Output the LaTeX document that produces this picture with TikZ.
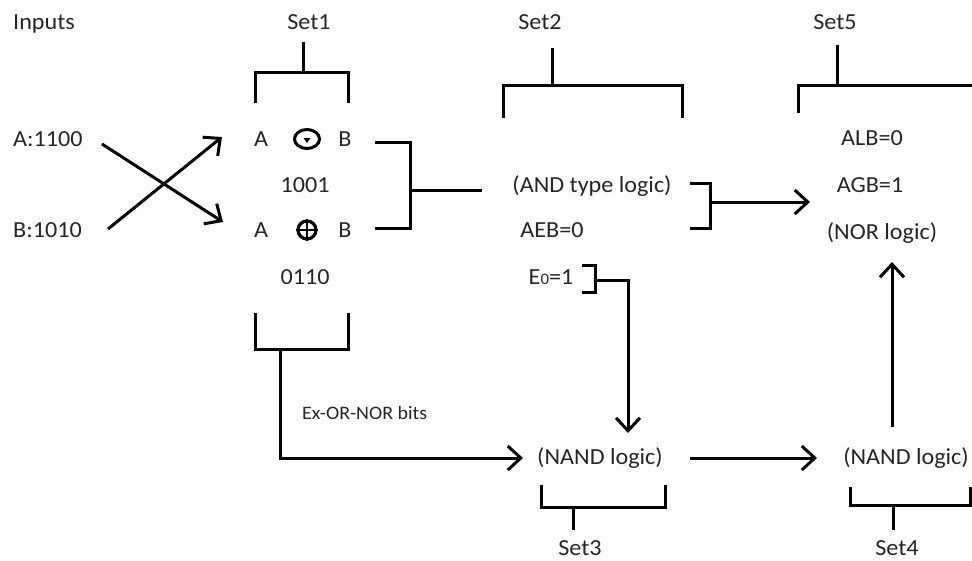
\documentclass[tikz,border=0pt]{standalone}
\usepackage{fontspec}
\setmainfont{Carlito}[FakeStretch=1.05]
\usetikzlibrary{arrows.meta,shapes.geometric,calc}
\begin{document}
\begin{tikzpicture}[x=1pt,y=-1pt,
  txt/.style={font=\fontsize{23}{27}\selectfont, text=black!85, inner sep=0pt, anchor=base},
  small/.style={font=\fontsize{19}{22}\selectfont, text=black!85, inner sep=0pt, anchor=base west},
  ln/.style={line width=3pt, black},
  arr/.style={ln, -{Straight Barb[length=13pt,width=24pt]}}]
\useasboundingbox (0,0) rectangle (972,560);
% ---- texts ----
\node[txt, anchor=base west] (inputs) at (13,29) {Inputs};
\node[txt] (set1) at (309,29) {Set1};
\node[txt] (set2) at (540,29) {Set2};
\node[txt] (set5) at (835,29) {Set5};
\node[txt] (set3) at (580,555) {Set3};
\node[txt] (set4) at (897,555) {Set4};
\node[txt, anchor=base west] (ina) at (13,146) {A:1100};
\node[txt, anchor=base west] (inb) at (13,237) {B:1010};
\node[txt] (a1) at (261,146) {A};
\node[txt] (b1) at (345,146) {B};
\node[txt] (r1) at (305,192) {1001};
\node[txt] (a2) at (261,237) {A};
\node[txt] (b2) at (345,237) {B};
\node[txt] (r2) at (305,284) {0110};
\node[txt] (andl) at (592,192) {(AND type logic)};
\node[txt] (aeb) at (552,237) {AEB=0};
\node[txt] (e0) at (551,284) {E{\fontsize{16}{16}\selectfont 0}=1};
\node[txt] (alb) at (872,145) {ALB=0};
\node[txt] (agb) at (870,192) {AGB=1};
\node[txt] (nor) at (882,239) {(NOR logic)};
\node[txt] (nand3) at (600,464) {(NAND logic)};
\node[txt] (nand4) at (906,464) {(NAND logic)};
\node[small] (exnor) at (302,419) {Ex-OR-NOR bits};
% ---- operator symbols ----
\node[ellipse, draw, line width=3pt, minimum width=25pt, minimum height=19pt, inner sep=0pt] (xnor) at (307,139) {};
\fill ($(xnor.center)+(-3.5,-1)$) -- ($(xnor.center)+(3.5,-1)$) -- ($(xnor.center)+(0,4)$) -- cycle;
\node[circle, draw, line width=3.2pt, minimum size=18pt, inner sep=0pt] (xor) at (307,230) {};
\draw[line width=2.8pt] (xor.north) -- (xor.south) (xor.west) -- (xor.east);
% ---- coordinates ----
\coordinate (s1t) at (303,42);  \coordinate (s1m) at (303,72);
\coordinate (s1l) at (255,103); \coordinate (s1r) at (348,103);
\coordinate (s2t) at (552,48);  \coordinate (s2m) at (552,85);
\coordinate (s2l) at (503,118); \coordinate (s2r) at (682,118);
\coordinate (s5t) at (837,45);  \coordinate (s5m) at (837,85);
\coordinate (s5l) at (798,113); \coordinate (s5r) at (976,85);
\coordinate (b1l) at (255,313); \coordinate (b1r) at (348,313); \coordinate (b1m) at (280,349);
\coordinate (s3l) at (541,485); \coordinate (s3r) at (665,485); \coordinate (s3m) at (573,507); \coordinate (s3b) at (573,530);
\coordinate (s4l) at (850,487); \coordinate (s4r) at (970,487); \coordinate (s4m) at (893,505); \coordinate (s4b) at (893,530);
\coordinate (k1a) at (375,142); \coordinate (k1b) at (410,228); \coordinate (k1c) at (375,228);
\coordinate (k1m) at (410,190); \coordinate (k1e) at (482,190);
\coordinate (k2a) at (690,183); \coordinate (k2b) at (710,228); \coordinate (k2c) at (690,228);
\coordinate (k2m) at (710,202); \coordinate (k2e) at (810,202);
\coordinate (k3a) at (582,265); \coordinate (k3b) at (595,292); \coordinate (k3c) at (582,292);
\coordinate (k3m) at (595,280); \coordinate (k3d) at (628,280); \coordinate (k3e) at (628,433);
\coordinate (x1s) at (102,144); \coordinate (x1e) at (223,222);
\coordinate (x2s) at (108,229); \coordinate (x2e) at (222,137);
\coordinate (n3w) at (523,458); \coordinate (n3e) at (690,458); \coordinate (n4w) at (817,458);
\coordinate (n4n) at (892,427); \coordinate (nors) at (892,262);
% ---- brackets ----
\draw[ln] (s1t) -- (s1m);
\draw[ln] (s1l) |- (s1r |- s1m) -- (s1r);
\draw[ln] (s2t) -- (s2m);
\draw[ln] (s2l) |- (s2r |- s2m) -- (s2r);
\draw[ln] (s5t) -- (s5m);
\draw[ln] (s5l) |- (s5r);
\draw[ln] (b1l) |- (b1r |- b1m) -- (b1r);
\draw[ln] (s3l) |- (s3r |- s3m) -- (s3r);
\draw[ln] (s3m) -- (s3b);
\draw[ln] (s4l) |- (s4r |- s4m) -- (s4r);
\draw[ln] (s4m) -- (s4b);
\draw[ln] (k1a) -| (k1b) -- (k1c);
\draw[ln] (k1m) -- (k1e);
\draw[ln] (k2a) -| (k2b) -- (k2c);
\draw[ln] (k3a) -| (k3b) -- (k3c);
% ---- arrows ----
\draw[arr] (x1s) -- (x1e);
\draw[arr] (x2s) -- (x2e);
\draw[arr] (b1m) |- (n3w);
\draw[arr] (k2m) -- (k2e);
\draw[arr] (k3m) -- (k3d) -- (k3e);
\draw[arr] (n3e) -- (n4w);
\draw[arr] (n4n) -- (nors);
\end{tikzpicture}
\end{document}
